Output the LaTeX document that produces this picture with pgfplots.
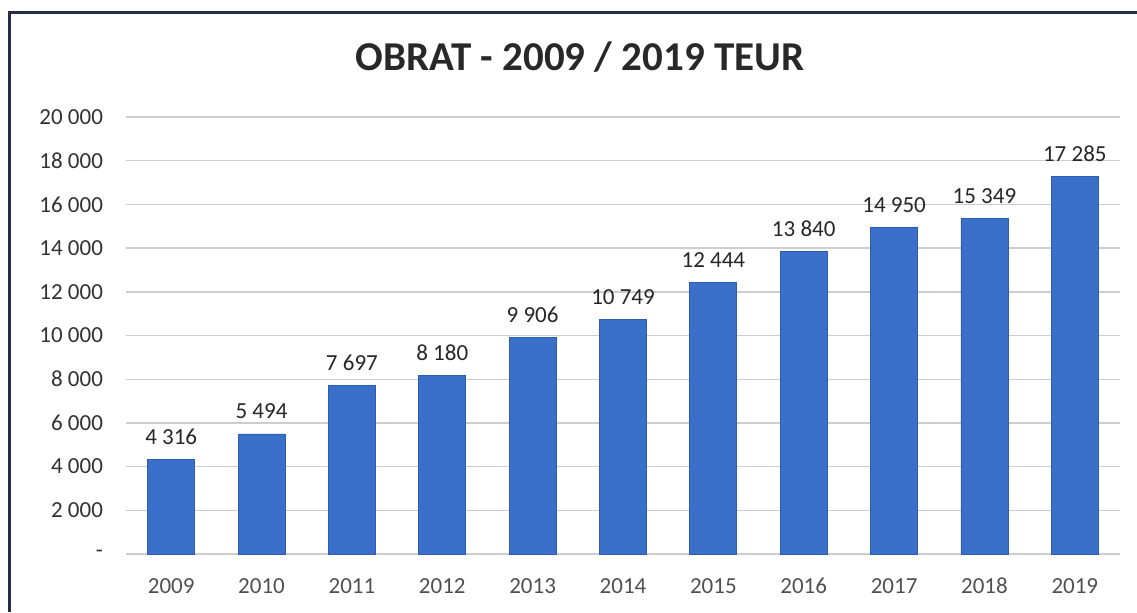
\documentclass[border=0pt]{standalone}
\usepackage{pgfplots}
\pgfplotsset{compat=1.18}
\usepackage{fontspec}
\setmainfont{Carlito}
\definecolor{barblue}{RGB}{58,112,202}
\definecolor{bardark}{RGB}{44,92,180}
\definecolor{framecol}{RGB}{35,45,75}
\definecolor{titlecol}{RGB}{40,40,40}
\definecolor{tickcol}{RGB}{80,80,80}
\definecolor{ytickcol}{RGB}{50,50,50}
\definecolor{gridcol}{RGB}{205,205,205}
\begin{document}
\begin{tikzpicture}[x=1pt,y=1pt]
\path[use as bounding box] (0,0) rectangle (568.5,306);
\draw[line width=1.5pt, color=framecol] (4.5,0) -- (4.5,299.5) -- (568.5,299.5);
\node[font=\fontsize{20.5}{24}\selectfont\bfseries, text=titlecol] at (290,277.5) {OBRAT - 2009 / 2019 TEUR};
\begin{axis}[
  at={(63pt,29pt)}, anchor=south west,
  scale only axis, width=497pt, height=218.5pt,
  xmin=-0.5, xmax=10.5, ymin=0, ymax=20000,
  axis line style={draw=none},
  major tick length=0pt,
  scaled y ticks=false,
  ymajorgrids, grid style={gridcol, line width=0.7pt},
  xtick={0,...,10},
  xticklabels={2009,2010,2011,2012,2013,2014,2015,2016,2017,2018,2019},
  ytick={0,2000,...,20000},
  yticklabels={-\hspace{5.5pt},2 000,4 000,6 000,8 000,10 000,12 000,14 000,16 000,18 000,20 000},
  ticklabel style={font=\fontsize{11.5}{13}\selectfont, text=tickcol},
  yticklabel style={anchor=east, xshift=-8pt, text=ytickcol},
  xticklabel style={anchor=north, yshift=-7.5pt, text height=8.5pt, text depth=0pt},
  ybar, bar width=23.5pt,
  point meta=explicit symbolic,
  nodes near coords,
  nodes near coords style={font=\fontsize{11.5}{13}\selectfont, text=black!85, anchor=south, yshift=4pt, text height=8.5pt, text depth=0pt},
]
\addplot[fill=barblue, draw=bardark, line width=0.4pt] coordinates {
 (0,4316) [4 316]
 (1,5494) [5 494]
 (2,7697) [7 697]
 (3,8180) [8 180]
 (4,9906) [9 906]
 (5,10749) [10 749]
 (6,12444) [12 444]
 (7,13840) [13 840]
 (8,14950) [14 950]
 (9,15349) [15 349]
 (10,17285) [17 285]
};
\end{axis}
\end{tikzpicture}
\end{document}
